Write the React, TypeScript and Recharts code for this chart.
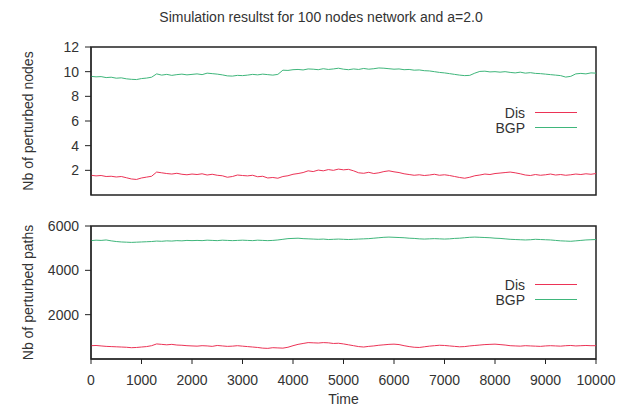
import React from "react";
import { LineChart, Line, XAxis, YAxis, ReferenceArea, Legend } from "recharts";

// sampled every 100 time units, 0..10000
const nodesDis = [
  1.6, 1.55, 1.58, 1.5, 1.52, 1.46, 1.5, 1.4, 1.3, 1.26, 1.38,
  1.45, 1.52, 1.86, 1.8, 1.74, 1.7, 1.76, 1.68, 1.64, 1.7,
  1.66, 1.72, 1.62, 1.68, 1.6, 1.56, 1.44, 1.5, 1.62, 1.58,
  1.55, 1.6, 1.48, 1.52, 1.38, 1.42, 1.36, 1.5, 1.56, 1.68,
  1.74, 1.82, 1.96, 1.9, 2.02, 1.96, 2.06, 2.0, 2.1, 2.04,
  2.08, 1.96, 1.8, 1.76, 1.84, 1.74, 1.8, 1.9, 1.96, 1.88,
  1.82, 1.72, 1.66, 1.6, 1.64, 1.58, 1.62, 1.68, 1.6, 1.64,
  1.58, 1.5, 1.42, 1.36, 1.44, 1.56, 1.62, 1.7, 1.66, 1.74,
  1.78, 1.82, 1.86, 1.8, 1.72, 1.62, 1.58, 1.66, 1.6, 1.64,
  1.7, 1.62, 1.66, 1.6, 1.64, 1.7, 1.66, 1.72, 1.68, 1.74,
];
const nodesBgp = [
  9.62, 9.58, 9.6, 9.52, 9.55, 9.47, 9.5, 9.42, 9.38, 9.36, 9.44,
  9.48, 9.55, 9.82, 9.72, 9.78, 9.7, 9.76, 9.8, 9.74, 9.78,
  9.82, 9.76, 9.88, 9.84, 9.8, 9.74, 9.66, 9.64, 9.7, 9.68,
  9.72, 9.78, 9.74, 9.8, 9.76, 9.72, 9.78, 10.12, 10.1, 10.16,
  10.18, 10.14, 10.22, 10.2, 10.16, 10.24, 10.18, 10.22, 10.28, 10.2,
  10.16, 10.22, 10.18, 10.26, 10.2, 10.24, 10.3, 10.28, 10.24, 10.2,
  10.22, 10.16, 10.18, 10.12, 10.14, 10.08, 10.06, 10.0, 9.94, 9.9,
  9.84, 9.78, 9.72, 9.68, 9.7, 9.88, 10.02, 10.04, 9.98, 10.0,
  9.96, 10.0, 9.94, 9.9, 9.96, 9.88, 9.92, 9.86, 9.84, 9.8,
  9.76, 9.72, 9.68, 9.56, 9.62, 9.82, 9.86, 9.82, 9.9, 9.88,
];
const pathsDis = [
  600, 610, 590, 570, 560, 550, 540, 530, 510, 520, 540,
  560, 600, 680, 660, 640, 660, 630, 620, 600, 590,
  580, 600, 590, 570, 610, 590, 570, 580, 600, 580,
  560, 540, 520, 490, 480, 510, 500, 490, 530, 600,
  660, 700, 740, 730, 720, 740, 730, 700, 710, 680,
  640, 600, 560, 540, 570, 590, 620, 640, 660, 670,
  650, 600, 560, 530, 520, 550, 580, 600, 620, 610,
  590, 570, 550, 560, 590, 610, 630, 650, 660, 670,
  650, 630, 600, 590, 580, 600, 590, 580, 570, 590,
  600, 590, 580, 600, 610, 590, 600, 610, 600, 600,
];
const pathsBgp = [
  5340, 5360, 5350, 5370, 5330, 5300, 5280, 5270, 5260, 5270, 5280,
  5290, 5300, 5320, 5310, 5330, 5320, 5340, 5330, 5350, 5340,
  5350, 5340, 5360, 5350, 5340, 5360, 5350, 5340, 5350, 5360,
  5350, 5340, 5360, 5350, 5340, 5350, 5370, 5400, 5430, 5440,
  5450, 5430, 5420, 5410, 5400, 5410, 5390, 5400, 5410, 5400,
  5390, 5400, 5410, 5420, 5430, 5450, 5470, 5490, 5500, 5490,
  5480, 5470, 5450, 5440, 5420, 5410, 5420, 5430, 5420, 5410,
  5420, 5440, 5450, 5470, 5490, 5500, 5490, 5480, 5470, 5450,
  5440, 5420, 5400, 5390, 5380, 5370, 5380, 5400, 5390, 5380,
  5370, 5350, 5330, 5320, 5310, 5330, 5350, 5370, 5380, 5390,
];
const timeTicks = [0, 1000, 2000, 3000, 4000, 5000, 6000, 7000, 8000, 9000, 10000];
const nodeTicks = [2, 4, 6, 8, 10, 12];
const pathTicks = [2000, 4000, 6000];
const legendOrder = ["Dis", "BGP"];

const STEP = 100;
const nodesData = nodesDis.map((d, i) => ({ t: i * STEP, dis: d, bgp: nodesBgp[i] }));
const pathsData = pathsDis.map((d, i) => ({ t: i * STEP, dis: d, bgp: pathsBgp[i] }));

const font = "'Liberation Sans', Arial, sans-serif";
const ink = "#222";
const RED = "#ec3356";
const GREEN = "#3fb67b";
const tickStyle = { fontSize: 14, fill: "#333", fontFamily: font };

const LegendBox = ({ payload }: any) => {
  const items = [...(payload || [])].sort(
    (a: any, b: any) => legendOrder.indexOf(a.value) - legendOrder.indexOf(b.value)
  );
  return (
    <div style={{ fontFamily: font, fontSize: 14, color: "#333", width: 100 }}>
      {items.map((p: any) => (
        <div key={p.value} style={{ display: "flex", alignItems: "center", justifyContent: "flex-end", height: 15 }}>
          <span>{p.value}</span>
          <span style={{ display: "inline-block", width: 42, marginLeft: 10, borderTop: `1px solid ${p.color}` }} />
        </div>
      ))}
    </div>
  );
};

function Panel({ data, ticks, max, label, height, margin, showX, legendTop }: any) {
  return (
    <LineChart width={629} height={height} data={data} margin={margin}>
      <XAxis
        dataKey="t"
        type="number"
        domain={[0, 10000]}
        ticks={timeTicks}
        hide={!showX}
        height={49}
        tick={tickStyle}
        tickSize={5}
        tickMargin={11}
        stroke={ink}
        label={showX ? { value: "Time", position: "insideBottom", offset: 4, style: { fontSize: 14, fill: "#333", fontFamily: font } } : undefined}
      />
      <YAxis
        type="number"
        domain={[0, max]}
        ticks={ticks}
        width={91}
        tick={tickStyle}
        tickSize={6}
        tickMargin={6}
        stroke={ink}
        label={{ value: label, angle: -90, position: "insideLeft", offset: 28, style: { textAnchor: "middle", fontSize: 14, fill: "#333", fontFamily: font } }}
      />
      <ReferenceArea x1={0} x2={10000} y1={0} y2={max} fill="none" stroke={ink} strokeWidth={1.5} />
      <Legend
        layout="horizontal"
        verticalAlign="middle"
        align="center"
        content={<LegendBox />}
        wrapperStyle={{ left: 477, top: legendTop, width: 100 }}
      />
      <Line dataKey="dis" name="Dis" stroke={RED} strokeWidth={1} dot={false} isAnimationActive={false} />
      <Line dataKey="bgp" name="BGP" stroke={GREEN} strokeWidth={1} dot={false} isAnimationActive={false} />
    </LineChart>
  );
}

export default function App() {
  return (
    <div style={{ position: "absolute", left: 0, top: 0, width: 629, height: 408, background: "#fff", fontFamily: font }}>
      <div style={{ position: "absolute", left: 0, top: 9, width: 642, textAlign: "center", fontSize: 14, lineHeight: "16px", color: "#333" }}>
        Simulation resultst for 100 nodes network and a=2.0
      </div>
      <div style={{ position: "absolute", left: 0, top: 0 }}>
        <Panel
          data={nodesData}
          ticks={nodeTicks}
          max={12}
          label="Nb of perturbed nodes"
          height={200}
          margin={{ top: 47, right: 33, bottom: 5, left: 0 }}
          showX={false}
          legendTop={105}
        />
      </div>
      <div style={{ position: "absolute", left: 0, top: 200 }}>
        <Panel
          data={pathsData}
          ticks={pathTicks}
          max={6000}
          label="Nb of perturbed paths"
          height={208}
          margin={{ top: 26, right: 33, bottom: 0, left: 0 }}
          showX={true}
          legendTop={77}
        />
      </div>
    </div>
  );
}
